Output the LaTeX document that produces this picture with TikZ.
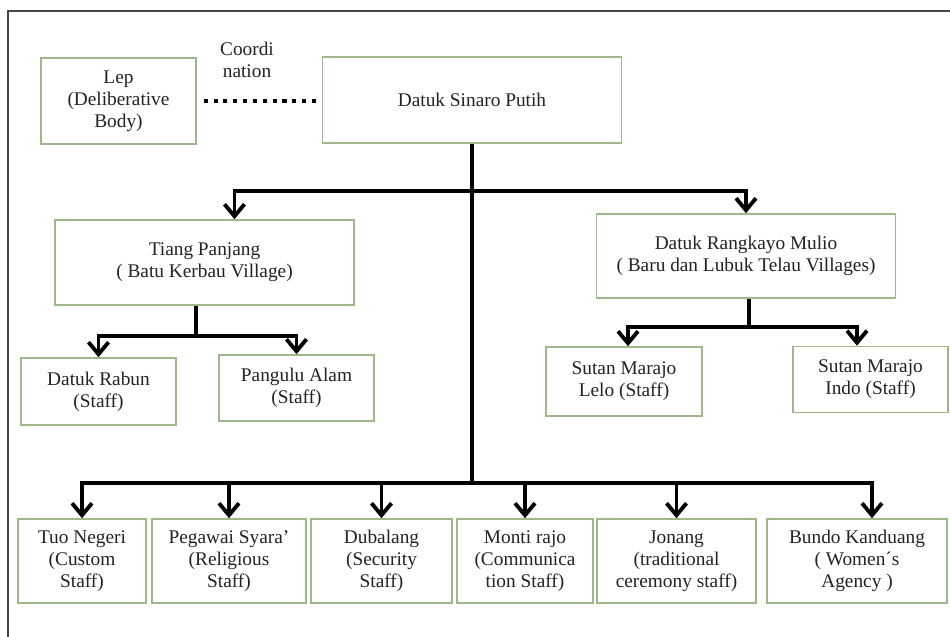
\documentclass[tikz,border=0pt]{standalone}
\usepackage{fontspec}
\setmainfont{Liberation Serif}
\usetikzlibrary{arrows.meta}
\definecolor{boxgreen}{RGB}{158,184,138}
\definecolor{textgray}{RGB}{35,35,35}
\definecolor{framegray}{RGB}{70,70,70}

\begin{document}
\begin{tikzpicture}[x=0.02cm, y=-0.02cm,
  box/.style={draw=boxgreen, line width=0.9pt, fill=white, align=center, inner sep=2pt, text=textgray, font=\fontsize{11}{12.6}\selectfont},
  plain/.style={align=center, inner sep=0pt, text=textgray, font=\fontsize{11}{12.6}\selectfont},
  trunk/.style={line width=2.2pt},
  link/.style={line width=2.2pt, -{Straight Barb[length=2.4mm,width=4mm,line width=2.2pt]}},
  dots/.style={line width=2.3pt, dash pattern=on 2.3pt off 3.3pt}]
  \useasboundingbox (0,0) rectangle (950,636);
  \clip (0,0) rectangle (950,636);
  \draw[framegray, line width=0.9pt] (8,11) rectangle (980,660);

  % top row
  \node[box, minimum width=3.1cm, minimum height=1.72cm] (lep) at (118.5,101) {Lep\\(Deliberative\\Body)};
  \node[box, minimum width=5.98cm, minimum height=1.72cm] (sinaro) at (472,100) {Datuk Sinaro Putih};
  \node[plain] (coord) at (247,60) {Coordi\\nation};

  % second level
  \node[box, minimum width=5.98cm, minimum height=1.7cm] (tiang) at (204.5,262.5) {Tiang Panjang\\( Batu Kerbau Village)};
  \node[box, minimum width=5.98cm, minimum height=1.68cm] (rangkayo) at (746,256) {Datuk Rangkayo Mulio\\( Baru dan Lubuk Telau Villages)};

  % staff
  \node[box, minimum width=3.1cm, minimum height=1.34cm] (rabun) at (98.5,391.5) {Datuk Rabun\\(Staff)};
  \node[box, minimum width=3.1cm, minimum height=1.32cm] (pangulu) at (296.5,388) {Pangulu Alam\\(Staff)};
  \node[box, minimum width=3.12cm, minimum height=1.38cm] (lelo) at (624,381.5) {Sutan Marajo\\Lelo (Staff)};
  \node[box, minimum width=3.1cm, minimum height=1.32cm] (indo) at (870.5,379.5) {Sutan Marajo\\Indo (Staff)};

  % bottom row
  \node[box, minimum width=2.56cm, minimum height=1.68cm] (tuo) at (82,561) {Tuo Negeri\\(Custom\\Staff)};
  \node[box, minimum width=3.08cm, minimum height=1.68cm] (pegawai) at (229,561) {Pegawai Syara’\\(Religious\\Staff)};
  \node[box, minimum width=2.82cm, minimum height=1.68cm] (dubalang) at (381.5,561) {Dubalang\\(Security\\Staff)};
  \node[box, minimum width=2.72cm, minimum height=1.68cm] (monti) at (525,561) {Monti rajo\\(Communica\\tion Staff)};
  \node[box, minimum width=3.18cm, minimum height=1.68cm] (jonang) at (676.5,561) {Jonang\\(traditional\\ceremony staff)};
  \node[box, minimum width=3.6cm, minimum height=1.68cm] (bundo) at (857,561) {Bundo Kanduang\\( Women´s\\Agency )};

  % connectors
  \coordinate (hub top) at (472,191);
  \coordinate (hub low) at (472,483);
  \coordinate (tiang fork) at (196,336);
  \coordinate (rangkayo fork) at (749,327);

  \draw[dots] ([xshift=0.14cm]lep.east) -- (lep.east -| sinaro.west);
  \draw[trunk] (sinaro.south) -- (hub low);
  \draw[link] (hub top) -| ([xshift=0.6cm]tiang.north);
  \draw[link] (hub top) -| (rangkayo.north);

  \draw[trunk] (tiang.south -| tiang fork) -- (tiang fork);
  \draw[link] (tiang fork) -| (rabun.north);
  \draw[link] (tiang fork) -| (pangulu.north);

  \draw[trunk] (rangkayo.south -| rangkayo fork) -- (rangkayo fork);
  \draw[link] (rangkayo fork) -| ([xshift=0.08cm]lelo.north);
  \draw[link] (rangkayo fork) -| ([xshift=-0.27cm]indo.north);

  \foreach \n in {tuo,pegawai,dubalang,monti,jonang}
    \draw[link] (hub low) -| (\n.north);
  \draw[link] (hub low) -| ([xshift=0.3cm]bundo.north);
\end{tikzpicture}
\end{document}
